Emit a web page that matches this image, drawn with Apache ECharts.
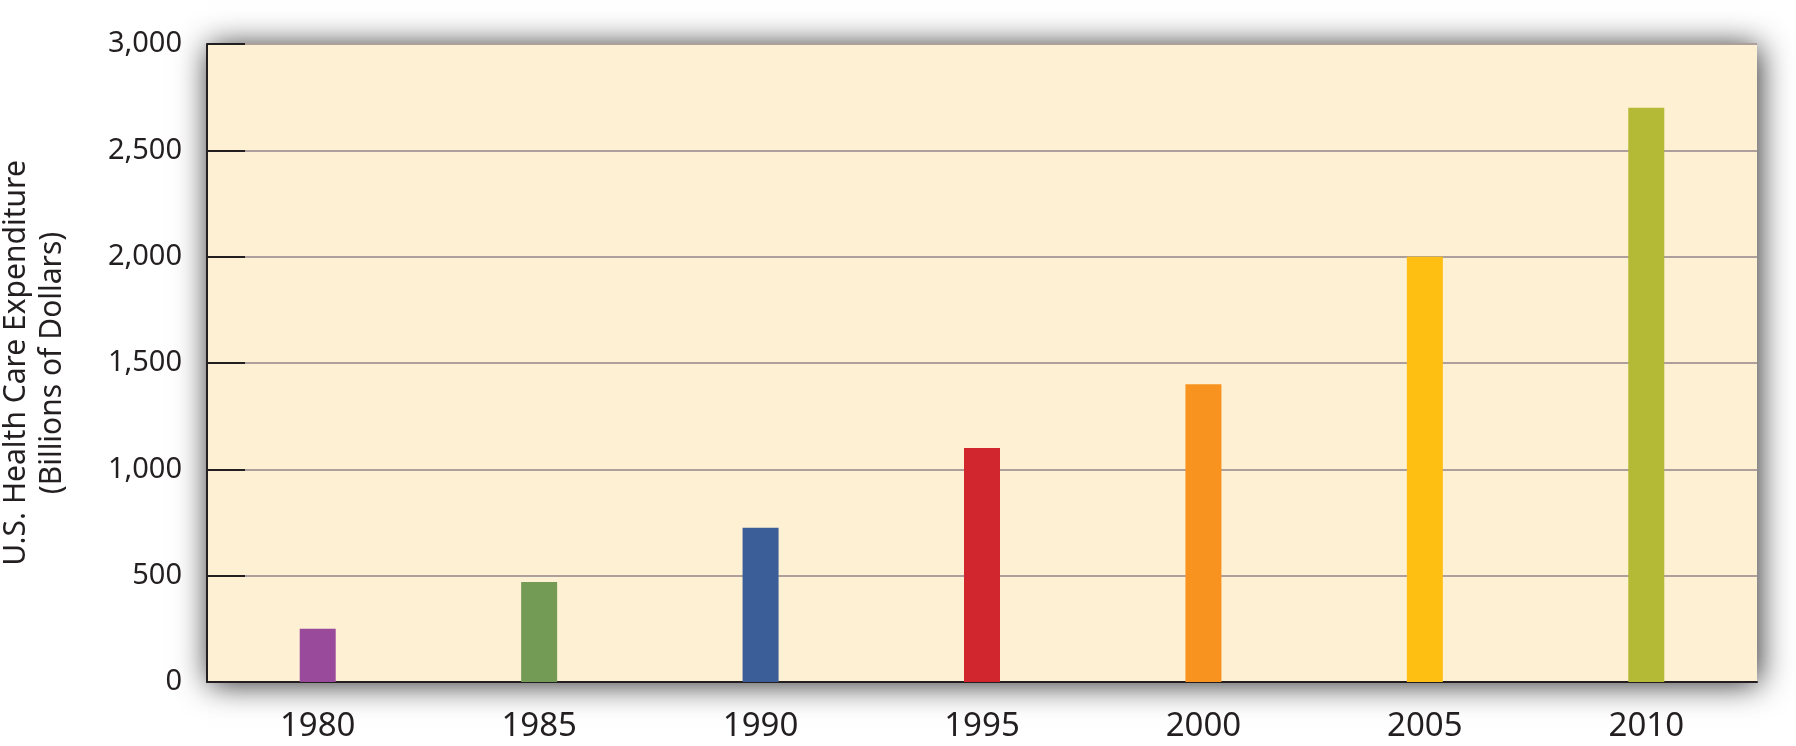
<!DOCTYPE html>
<html>
<head>
<meta charset="utf-8">
<title>U.S. Health Care Expenditure</title>
<script src="https://cdn.jsdelivr.net/npm/echarts@6/dist/echarts.min.js"></script>
<style>
    html, body { margin: 0; padding: 0; background: #ffffff; }
    #chart { width: 1796px; height: 746px; }
</style>
</head>
<body>
<div id="chart"></div>
<script>
// values (billions of dollars)
const years = ['1980', '1985', '1990', '1995', '2000', '2005', '2010']
const spending = [250, 470, 725, 1100, 1400, 2000, 2700]
const barColors = ['#9a4a9b', '#739b55', '#3c5e98', '#d2262f', '#f7931e', '#febe12', '#b4ba36']

const chart = echarts.init(document.getElementById('chart'))

const option = {
    backgroundColor: '#ffffff',
    animation: false,
    grid: {
        left: 207,
        right: 39,
        top: 44,
        bottom: 64,
        outerBoundsMode: 'none',
        show: true,
        backgroundColor: '#fef0d3',
        borderWidth: 0,
        shadowBlur: 30,
        shadowColor: 'rgba(0, 0, 0, 0.85)',
        shadowOffsetX: 2,
        shadowOffsetY: 2,
    },
    xAxis: {
        type: 'category',
        data: years,
        boundaryGap: true,
        axisLine: { lineStyle: { color: '#231f20', width: 2 } },
        axisTick: {
            inside: true,
            length: 15,
            lineStyle: { color: '#231f20', width: 2 },
        },
        axisLabel: {
            margin: 28,
            fontFamily: 'Noto Sans',
            fontSize: 33,
            color: '#231f20',
        },
    },
    yAxis: {
        type: 'value',
        min: 0,
        max: 3000,
        interval: 500,
        name: 'U.S. Health Care Expenditure\n(Billions of Dollars)',
        nameLocation: 'middle',
        nameGap: 137,
        nameRotate: 90,
        nameTextStyle: {
            fontFamily: 'Noto Sans',
            fontSize: 30,
            lineHeight: 36,
            color: '#231f20',
        },
        axisLine: { show: true, lineStyle: { color: '#231f20', width: 2 } },
        axisTick: {
            show: true,
            inside: true,
            length: 38,
            lineStyle: { color: '#231f20', width: 2 },
        },
        axisLabel: {
            margin: 25,
            fontFamily: 'Noto Sans',
            fontSize: 29,
            color: '#231f20',
            formatter: v => v.toLocaleString('en-US'),
        },
        splitLine: { lineStyle: { color: '#ad9f9b', width: 2 } },
    },
    series: [
        {
            type: 'bar',
            barWidth: 36,
            data: spending.map((v, i) => ({
                value: v,
                itemStyle: { color: barColors[i] },
            })),
        },
    ],
}

chart.setOption(option)
</script>
</body>
</html>
